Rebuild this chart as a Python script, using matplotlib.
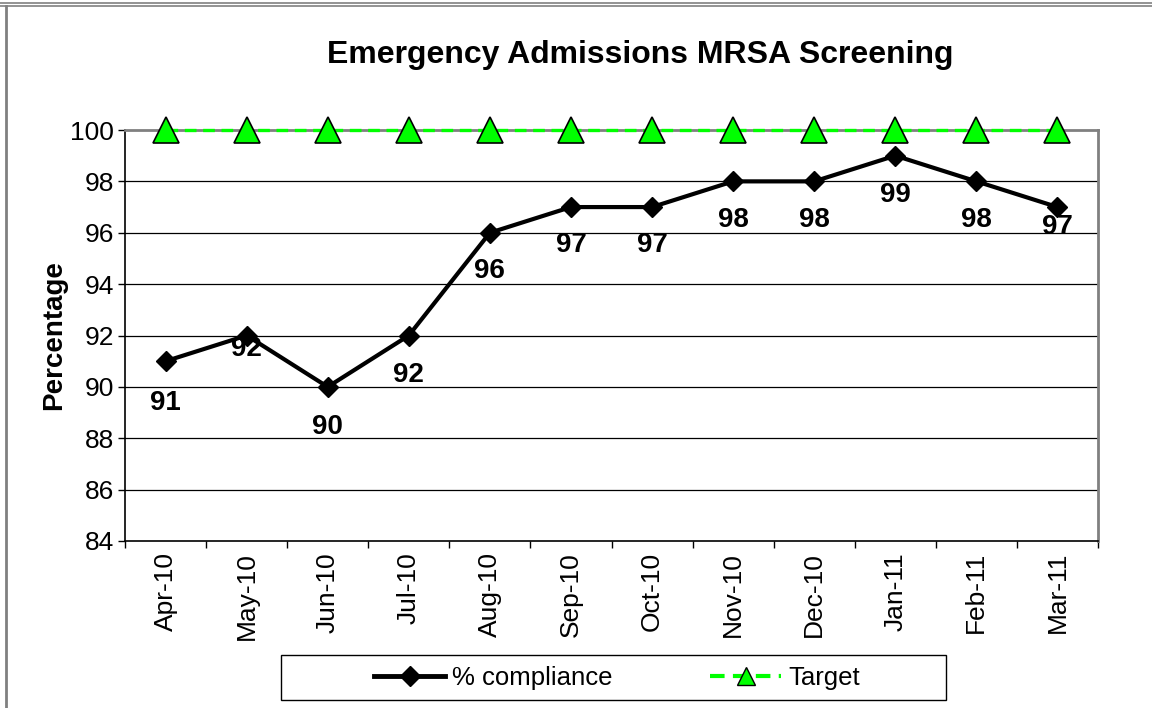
import numpy as np
import matplotlib
matplotlib.use('Agg')
import matplotlib.pyplot as plt
from matplotlib.lines import Line2D
from matplotlib.patches import Rectangle

months = ['Apr-10', 'May-10', 'Jun-10', 'Jul-10', 'Aug-10', 'Sep-10',
          'Oct-10', 'Nov-10', 'Dec-10', 'Jan-11', 'Feb-11', 'Mar-11']
compliance = [91, 92, 90, 92, 96, 97, 97, 98, 98, 99, 98, 97]
target = [100] * 12

# label drop below each point, in pixels
label_drop = [42, 14, 40, 39, 38, 38, 38, 39, 39, 39, 39, 20]

plt.rcParams['font.family'] = ['Liberation Sans', 'DejaVu Sans']

fig = plt.figure(figsize=(11.52, 7.08), dpi=100)
ax = fig.add_axes([125/1152, 1-541/708, (1098-125)/1152, (541-130)/708])

x = np.arange(len(months))
green_dash = (0, (3.5, 2))

ax.set_ylim(84, 100)
ax.set_xlim(-0.5, len(months) - 0.5)
ax.set_yticks(np.arange(84, 101, 2))
for yv in np.arange(86, 100, 2):
    ax.axhline(yv, color='black', lw=0.9, zorder=1)

ax.plot(x, target, color='#00FF00', lw=2.4, ls=green_dash, marker='^',
        markersize=19, markerfacecolor='#00FF00', markeredgecolor='black',
        markeredgewidth=1.2, clip_on=False, zorder=4)
ax.plot(x, compliance, color='black', lw=3, marker='D', markersize=10,
        markerfacecolor='black', clip_on=False, zorder=3)

for xi, v, d in zip(x, compliance, label_drop):
    ax.annotate(str(v), (xi, v), xytext=(0, -d * 0.72), textcoords='offset points',
                ha='center', va='center', fontsize=20, fontweight='bold', zorder=5)

for s in ['left', 'bottom']:
    ax.spines[s].set_color('black')
    ax.spines[s].set_linewidth(1.2)
for s in ['top', 'right']:
    ax.spines[s].set_color('#808080')
    ax.spines[s].set_linewidth(2)

ax.set_xticks(np.arange(-0.5, len(months), 1.0))
ax.set_xticklabels([])
ax.set_xticks(x, minor=True)
ax.set_xticklabels(months, minor=True, rotation=90, fontsize=19)
ax.tick_params(axis='x', which='minor', length=0, pad=8)
ax.tick_params(axis='x', which='major', length=5, width=1, direction='out')
ax.tick_params(axis='y', length=5, width=1, direction='out', labelsize=19, pad=3)

ax.set_ylabel('Percentage', fontsize=20, fontweight='bold', labelpad=2)
fig.text(640/1152, 1-55/708, 'Emergency Admissions MRSA Screening',
         ha='center', va='center', fontsize=23, fontweight='bold')

handles = [Line2D([], [], color='black', lw=3.5, marker='D', markersize=10),
           Line2D([], [], color='#00FF00', lw=3, ls=green_dash, marker='^',
                  markersize=13, markerfacecolor='#00FF00', markeredgecolor='black')]
leg = fig.legend(handles, ['% compliance', 'Target'], loc='center',
                 bbox_to_anchor=(617/1152, 1-678/708), ncol=2, fontsize=18.5,
                 frameon=False, handlelength=2.77, handletextpad=0.27,
                 columnspacing=3.78, borderpad=0.3)
fig.add_artist(Rectangle((281/1152, 1-700/708), (946-281)/1152, 45/708,
                         transform=fig.transFigure, fill=False,
                         edgecolor='black', lw=1))

# outer chart frame
fig.add_artist(Line2D([0, 1], [1-2.5/708, 1-2.5/708], transform=fig.transFigure, color='#808080', lw=1.2))
fig.add_artist(Line2D([0, 1], [1-5.5/708, 1-5.5/708], transform=fig.transFigure, color='#808080', lw=1.2))
fig.add_artist(Line2D([5.5/1152, 5.5/1152], [0, 1-5.5/708], transform=fig.transFigure, color='#808080', lw=2))

fig.savefig('out.png', dpi=100)
